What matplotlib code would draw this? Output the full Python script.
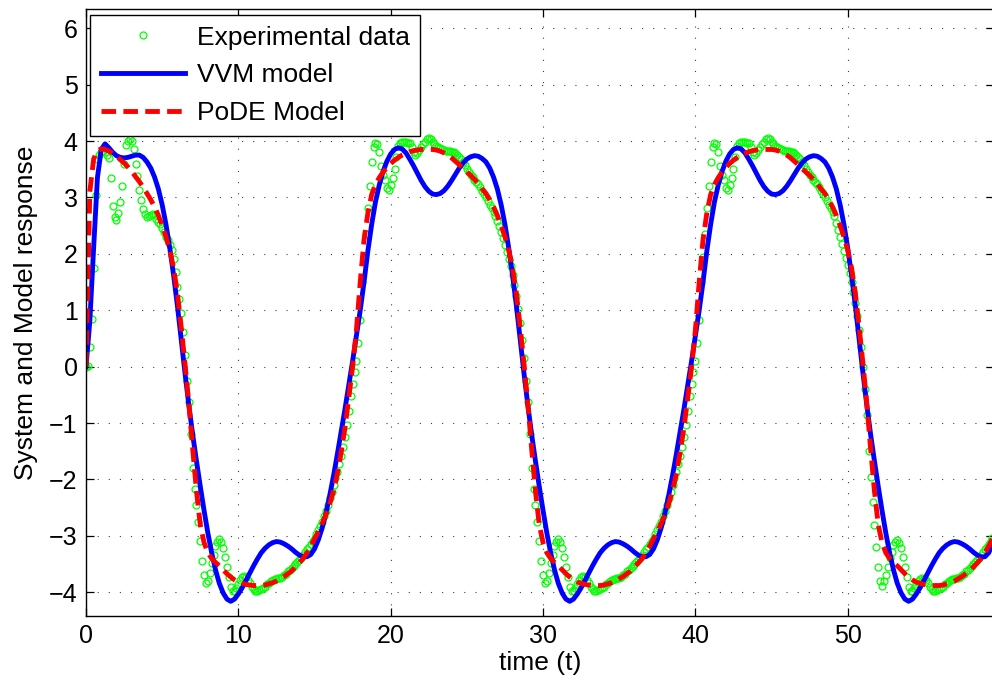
"""System response vs. VVM and PoDE model responses."""

import matplotlib
matplotlib.use('Agg')
import matplotlib.pyplot as plt
import numpy as np

# Model responses, sampled every 0.25 time units from t = 0 to t = 59.5
vvm_start = [0.0, 0.8, 2.1, 3.35, 3.85, 3.95, 3.88, 3.8, 3.74, 3.71, 3.7, 3.71, 3.73, 3.75, 3.75, 3.71]
vvm_cycle1 = [3.63, 3.52, 3.36, 3.15, 2.87, 2.52, 2.1, 1.62, 1.08, 0.48,
              -0.12, -0.68, -1.2, -1.67, -2.12, -2.55, -2.95, -3.3, -3.6, -3.84,
              -4.01, -4.12, -4.16, -4.12, -4.03, -3.92, -3.79, -3.66, -3.53, -3.41,
              -3.3, -3.22, -3.16, -3.12, -3.1, -3.11, -3.14, -3.18, -3.23, -3.29,
              -3.34, -3.37, -3.37, -3.33, -3.23, -3.07, -2.86, -2.6, -2.28, -1.93,
              -1.55, -1.15, -0.75, -0.33, 0.1, 0.55, 1.0, 1.5, 2.05, 2.52,
              2.92, 3.22, 3.46, 3.64, 3.77, 3.85, 3.88, 3.86, 3.79, 3.68,
              3.56, 3.43, 3.3, 3.19, 3.11, 3.06, 3.05, 3.07, 3.12, 3.2,
              3.3, 3.41, 3.52, 3.61, 3.68, 3.72, 3.74, 3.73, 3.69]
vvm_cycle2 = [3.63, 3.52, 3.36, 3.15, 2.87, 2.52, 2.1, 1.62, 1.08, 0.48,
              -0.12, -0.68, -1.2, -1.67, -2.12, -2.55, -2.95, -3.3, -3.6, -3.84,
              -4.01, -4.12, -4.16, -4.12, -4.03, -3.92, -3.79, -3.66, -3.53, -3.41,
              -3.3, -3.22, -3.16, -3.12, -3.1, -3.11, -3.14, -3.18, -3.23, -3.29,
              -3.34, -3.37, -3.37, -3.33, -3.23, -3.07, -2.86, -2.6, -2.28, -1.93,
              -1.55, -1.15, -0.75, -0.33, 0.1, 0.55, 1.0, 1.5, 2.05, 2.52,
              2.92, 3.22, 3.46, 3.64, 3.77, 3.85, 3.88, 3.86, 3.79, 3.68,
              3.56, 3.43, 3.3, 3.19, 3.11, 3.06, 3.05, 3.07, 3.12, 3.2,
              3.3, 3.41, 3.52, 3.61, 3.68, 3.72, 3.74, 3.73, 3.69]
vvm_cycle3 = [3.63, 3.52, 3.36, 3.15, 2.87, 2.52, 2.1, 1.62, 1.08, 0.48,
              -0.12, -0.68, -1.2, -1.67, -2.12, -2.55, -2.95, -3.3, -3.6, -3.84,
              -4.01, -4.12, -4.16, -4.12, -4.03, -3.92, -3.79, -3.66, -3.53, -3.41,
              -3.3, -3.22, -3.16, -3.12, -3.1, -3.11, -3.14, -3.18, -3.23, -3.29,
              -3.34, -3.37, -3.37, -3.3, -3.15]

pode_start = [0.0, 3.1, 3.68, 3.83, 3.86, 3.85, 3.82, 3.78, 3.73, 3.67, 3.61, 3.54, 3.46, 3.37, 3.28, 3.18]
pode_cycle1 = [3.07, 2.96, 2.83, 2.68, 2.5, 2.3, 2.06, 1.75, 1.3, 0.7,
               0.05, -0.65, -1.45, -2.2, -2.8, -3.12, -3.3, -3.4, -3.47, -3.53,
               -3.6, -3.67, -3.73, -3.78, -3.82, -3.84, -3.86, -3.87, -3.88, -3.88,
               -3.88, -3.87, -3.85, -3.83, -3.8, -3.76, -3.72, -3.67, -3.62, -3.55,
               -3.48, -3.4, -3.3, -3.18, -3.05, -2.92, -2.78, -2.62, -2.43, -2.2,
               -1.9, -1.52, -1.08, -0.55, 0.0, 0.65, 1.5, 2.25, 2.72, 3.05,
               3.23, 3.35, 3.45, 3.53, 3.6, 3.66, 3.71, 3.75, 3.78, 3.81,
               3.83, 3.84, 3.85, 3.85, 3.85, 3.85, 3.84, 3.82, 3.79, 3.75,
               3.7, 3.64, 3.58, 3.51, 3.45, 3.39, 3.32, 3.24, 3.15]
pode_cycle2 = [3.07, 2.96, 2.83, 2.68, 2.5, 2.3, 2.06, 1.75, 1.3, 0.7,
               0.05, -0.65, -1.45, -2.2, -2.8, -3.12, -3.3, -3.4, -3.47, -3.53,
               -3.6, -3.67, -3.73, -3.78, -3.82, -3.84, -3.86, -3.87, -3.88, -3.88,
               -3.88, -3.87, -3.85, -3.83, -3.8, -3.76, -3.72, -3.67, -3.62, -3.55,
               -3.48, -3.4, -3.3, -3.18, -3.05, -2.92, -2.78, -2.62, -2.43, -2.2,
               -1.9, -1.52, -1.08, -0.55, 0.0, 0.65, 1.5, 2.25, 2.72, 3.05,
               3.23, 3.35, 3.45, 3.53, 3.6, 3.66, 3.71, 3.75, 3.78, 3.81,
               3.83, 3.84, 3.85, 3.85, 3.85, 3.85, 3.84, 3.82, 3.79, 3.75,
               3.7, 3.64, 3.58, 3.51, 3.45, 3.39, 3.32, 3.24, 3.15]
pode_cycle3 = [3.07, 2.96, 2.83, 2.68, 2.5, 2.3, 2.06, 1.75, 1.3, 0.7,
               0.05, -0.65, -1.45, -2.2, -2.8, -3.12, -3.3, -3.4, -3.47, -3.53,
               -3.6, -3.67, -3.73, -3.78, -3.82, -3.84, -3.86, -3.87, -3.88, -3.88,
               -3.88, -3.87, -3.85, -3.83, -3.8, -3.76, -3.72, -3.67, -3.62, -3.55,
               -3.48, -3.4, -3.3, -3.18, -3.05]

# Experimental data, sampled every 0.125 time units from t = 0 to t = 59.5
exp_start = [0.0, 0.02, 0.35, 0.85, 1.75, 3.05, 3.68, 3.75, 3.8, 3.82, 3.8, 3.75, 3.69, 3.35, 2.85, 2.65,
             2.6, 2.72, 2.92, 3.2, 3.6, 3.93, 4.0, 4.04, 4.0, 3.85, 3.6, 3.38, 3.14, 2.95, 2.8, 2.7]
exp_cycle1 = [2.66, 2.67, 2.69, 2.71, 2.68, 2.62, 2.57, 2.52,
              2.45, 2.38, 2.3, 2.25, 2.16, 2.07, 1.9, 1.68,
              1.42, 1.2, 0.95, 0.62, 0.2, -0.25, -0.62, -1.2,
              -1.8, -2.17, -2.45, -2.76, -3.09, -3.45, -3.7, -3.83,
              -3.8, -3.65, -3.48, -3.33, -3.18, -3.1, -3.06, -3.1,
              -3.22, -3.37, -3.55, -3.73, -3.9, -3.98, -3.97, -3.92,
              -3.85, -3.78, -3.73, -3.71, -3.73, -3.78, -3.84, -3.9,
              -3.95, -3.98, -3.98, -3.96, -3.94, -3.92, -3.9, -3.86,
              -3.83, -3.8, -3.78, -3.77, -3.76, -3.75, -3.74, -3.73,
              -3.7, -3.67, -3.63, -3.6, -3.57, -3.53, -3.5, -3.46,
              -3.43, -3.39, -3.34, -3.29, -3.24, -3.19, -3.14, -3.09,
              -3.03, -2.97, -2.9, -2.83, -2.75, -2.65, -2.56, -2.45,
              -2.33, -2.22, -2.1, -1.98, -1.86, -1.72, -1.58, -1.42,
              -1.24, -1.03, -0.78, -0.52, -0.3, -0.1, 0.1, 0.42,
              0.83, 1.5, 1.95, 2.35, 2.82, 3.2, 3.63, 3.9,
              3.96, 3.94, 3.8, 3.55, 3.4, 3.3, 3.16, 3.14,
              3.22, 3.35, 3.5, 3.72, 3.92, 3.97, 3.99, 3.99,
              3.98, 3.97, 3.96, 3.9, 3.8, 3.75, 3.78, 3.84,
              3.89, 3.94, 3.99, 4.03, 4.05, 4.03, 3.98, 3.94,
              3.92, 3.9, 3.88, 3.86, 3.84, 3.83, 3.82, 3.82,
              3.81, 3.8, 3.78, 3.75, 3.71, 3.68, 3.63, 3.57,
              3.51, 3.45, 3.4, 3.36, 3.31, 3.27, 3.23, 3.19,
              3.12, 3.06]
exp_cycle2 = [3.0, 2.94, 2.87, 2.81, 2.74, 2.67, 2.59, 2.49,
              2.39, 2.28, 2.15, 2.03, 1.9, 1.78, 1.62, 1.45,
              1.25, 1.03, 0.78, 0.48, 0.15, -0.25, -0.62, -1.2,
              -1.8, -2.17, -2.45, -2.76, -3.09, -3.45, -3.7, -3.83,
              -3.8, -3.65, -3.48, -3.33, -3.18, -3.1, -3.06, -3.1,
              -3.22, -3.37, -3.55, -3.73, -3.9, -3.98, -3.97, -3.92,
              -3.85, -3.78, -3.73, -3.71, -3.73, -3.78, -3.84, -3.9,
              -3.95, -3.98, -3.98, -3.96, -3.94, -3.92, -3.9, -3.86,
              -3.83, -3.8, -3.78, -3.77, -3.76, -3.75, -3.74, -3.73,
              -3.7, -3.67, -3.63, -3.6, -3.57, -3.53, -3.5, -3.46,
              -3.43, -3.39, -3.34, -3.29, -3.24, -3.19, -3.14, -3.09,
              -3.03, -2.97, -2.9, -2.83, -2.75, -2.65, -2.56, -2.45,
              -2.33, -2.22, -2.1, -1.98, -1.86, -1.72, -1.58, -1.42,
              -1.24, -1.03, -0.78, -0.52, -0.3, -0.1, 0.1, 0.42,
              0.83, 1.5, 1.95, 2.35, 2.82, 3.2, 3.63, 3.9,
              3.96, 3.94, 3.8, 3.55, 3.4, 3.3, 3.16, 3.14,
              3.22, 3.35, 3.5, 3.72, 3.92, 3.97, 3.99, 3.99,
              3.98, 3.97, 3.96, 3.9, 3.8, 3.75, 3.78, 3.84,
              3.89, 3.94, 3.99, 4.03, 4.05, 4.03, 3.98, 3.94,
              3.92, 3.9, 3.88, 3.86, 3.84, 3.83, 3.82, 3.82,
              3.81, 3.8, 3.78, 3.75, 3.71, 3.68, 3.63, 3.57,
              3.51, 3.45, 3.4, 3.36, 3.31, 3.27, 3.23, 3.19,
              3.12, 3.06]
exp_cycle3 = [3.0, 2.94, 2.87, 2.81, 2.74, 2.67, 2.55, 2.42,
              2.3, 2.18, 2.05, 1.93, 1.8, 1.66, 1.5, 1.32,
              1.12, 0.9, 0.65, 0.35, 0.0, -0.4, -0.85, -1.5,
              -1.95, -2.4, -2.8, -3.2, -3.55, -3.8, -3.88, -3.8,
              -3.7, -3.55, -3.4, -3.28, -3.16, -3.1, -3.08, -3.12,
              -3.22, -3.37, -3.55, -3.73, -3.9, -3.98, -3.97, -3.92,
              -3.85, -3.8, -3.76, -3.75, -3.76, -3.79, -3.84, -3.9,
              -3.95, -3.98, -3.98, -3.96, -3.94, -3.92, -3.9, -3.86,
              -3.83, -3.8, -3.78, -3.77, -3.76, -3.75, -3.74, -3.73,
              -3.7, -3.67, -3.63, -3.6, -3.57, -3.53, -3.5, -3.46,
              -3.43, -3.39, -3.34, -3.29, -3.24, -3.19, -3.14, -3.09,
              -3.03]

vvm_y = vvm_start + vvm_cycle1 + vvm_cycle2 + vvm_cycle3
pode_y = pode_start + pode_cycle1 + pode_cycle2 + pode_cycle3
exp_y = exp_start + exp_cycle1 + exp_cycle2 + exp_cycle3

t_model = np.arange(len(vvm_y)) * 0.25
t_exp = np.arange(len(exp_y)) * 0.125

plt.rcParams['font.family'] = ['Liberation Sans', 'DejaVu Sans']

fig = plt.figure(figsize=(9.92, 6.89), dpi=100)
ax = fig.add_axes([86 / 992, 73 / 689, 908 / 992, 607 / 689])

ax.plot(t_exp, exp_y, 'o', mfc='none', mec=(0, 1, 0), ms=5, mew=0.9,
        label='Experimental data')
ax.plot(t_model, vvm_y, '-', color=(0, 0, 1), lw=3.5, label='VVM model')
ax.plot(t_model, pode_y, '--', color=(1, 0, 0), lw=3.5, dashes=(3, 1.5),
        label='PoDE Model')

ax.set_xlim(0, 59.6)
ax.set_ylim(-4.42, 6.34)
ax.set_xticks([0, 10, 20, 30, 40, 50])
ax.set_yticks(range(-4, 7))
ax.set_yticklabels(['\u22124', '\u22123', '\u22122', '\u22121', '0', '1', '2', '3', '4', '5', '6'])

ax.grid(True, color='0.25', lw=0.8, linestyle=(0, (1, 9)))
ax.tick_params(direction='in', top=True, right=True, length=5.5, width=0.9,
               labelsize=18, pad=6)
for s in ax.spines.values():
    s.set_linewidth(1.0)

ax.set_xlabel('time (t)', fontsize=19, labelpad=2)
ax.set_ylabel('System and Model response', fontsize=19, labelpad=8)

leg = ax.legend(loc='upper left', bbox_to_anchor=(4 / 908, 1 - 6 / 607),
                borderaxespad=0, fontsize=19, handlelength=3.2,
                handletextpad=0.45, labelspacing=0.52, borderpad=0.4,
                fancybox=False, framealpha=1, edgecolor='k')
leg.get_frame().set_linewidth(1.0)

fig.savefig('out.png', dpi=100)
